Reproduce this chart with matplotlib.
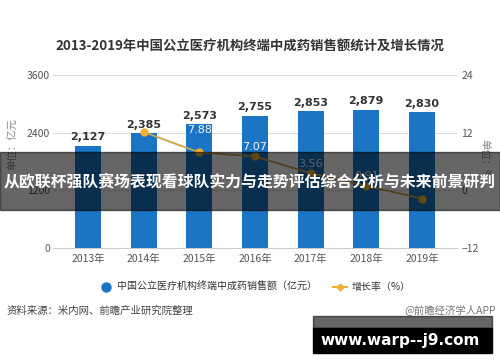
import matplotlib
matplotlib.use("Agg")
import matplotlib.pyplot as plt
from matplotlib.patches import Rectangle
from matplotlib.lines import Line2D

plt.rcParams['font.family'] = ['Noto Sans CJK SC', 'DejaVu Sans']

years = ['2013年', '2014年', '2015年', '2016年', '2017年', '2018年', '2019年']
sales = [2127, 2385, 2573, 2755, 2853, 2879, 2830]
growth = [None, 12.13, 7.88, 7.07, 3.56, 0.91, -1.70]
growth_labels = ['', '', '7.88', '7.07', '3.56', '0.91', '']

left_ticks = [0, 1200, 2400, 3600]
right_ticks = [-12, 0, 12, 24]

title = '2013-2019年中国公立医疗机构终端中成药销售额统计及增长情况'
banner = '从欧联杯强队赛场表现看球队实力与走势评估综合分析与未来前景研判'
site = 'www.warp--j9.com'

BAR = '#1b75c4'
LINE = '#c9a24a'
MARK = '#f0b030'
TXT = '#555555'

W, H = 500, 362
fig = plt.figure(figsize=(5, 3.62), dpi=100)


def px(x, y, w, h):
    # pixel box (top-left origin) -> figure fraction
    return [x / W, 1 - (y + h) / H, w / W, h / H]


ax = fig.add_axes(px(53, 75, 404, 173))
x = list(range(len(years)))
ax.bar(x, sales, width=0.47, color=BAR, zorder=2)
for i, v in enumerate(sales):
    ax.text(i, v + 70, f'{v:,}', ha='center', va='bottom', fontsize=8,
            fontweight='bold', color='#333333', family='DejaVu Sans')
ax.set_ylim(0, 3600)
ax.set_xlim(-0.63, 6.63)
ax.set_yticks(left_ticks)
ax.set_xticks(x)
ax.set_xticklabels(years, fontsize=7.5, color=TXT)
ax.tick_params(axis='y', labelsize=7.5, labelcolor=TXT, length=0, pad=2)
ax.tick_params(axis='x', length=0, pad=4)
ax.grid(axis='y', color='#dddddd', linewidth=0.8, zorder=0)
for s in ['top', 'right', 'left']:
    ax.spines[s].set_visible(False)
ax.spines['bottom'].set_color('#cccccc')
ax.set_ylabel('单位：亿元', fontsize=7.5, color='#888888')
ax.yaxis.set_label_coords(-0.085, 0.6)

ax2 = ax.twinx()
gx = [i for i in x if growth[i] is not None]
gy = [growth[i] for i in gx]
ax2.plot(gx, gy, color=LINE, linewidth=1.3, marker='o', markersize=5,
         markerfacecolor=MARK, markeredgecolor=MARK, zorder=3)
offsets = [0, 0, 16.5, 7, 7, 7, 7]
for i in gx:
    if growth_labels[i]:
        ax2.annotate(growth_labels[i], (i, growth[i]), xytext=(0, offsets[i]),
                     textcoords='offset points', ha='center', va='center',
                     fontsize=8, color='#f4f4f4', family='DejaVu Sans')
ax2.set_ylim(-12, 24)
ax2.set_yticks(right_ticks)
ax2.tick_params(axis='y', labelsize=7.5, labelcolor=TXT, length=0, pad=3)
for s in ax2.spines.values():
    s.set_visible(False)
ax2.set_ylabel('单位：%', fontsize=7.5, color='#888888', rotation=270)
ax2.yaxis.set_label_coords(1.08, 0.51)

fig.text(0.5, 1 - 47 / H, title, ha='center', va='center', fontsize=9.6,
         fontweight='bold', color='#333333')

# legend
ly = 1 - 287 / H
fig.lines.append(Line2D([106 / W], [ly], marker='o', markersize=6.5,
                        color=BAR, linestyle='none',
                        transform=fig.transFigure, figure=fig))
fig.text(117 / W, ly, '中国公立医疗机构终端中成药销售额（亿元）',
         ha='left', va='center', fontsize=7.2, color='#333333')
fig.lines.append(Line2D([333 / W, 340 / W, 347 / W], [ly] * 3, color=MARK,
                        linewidth=1.5, marker='D', markersize=3.5,
                        markevery=[1], transform=fig.transFigure, figure=fig))
fig.text(352 / W, ly, '增长率（%）', ha='left', va='center',
         fontsize=7.2, color='#333333')

fig.text(7 / W, 1 - 311 / H, '资料来源：米内网、前瞻产业研究院整理',
         ha='left', va='center', fontsize=7.5, color='#444444')
fig.text(496 / W, 1 - 310 / H, '@前瞻经济学人APP', ha='right', va='center',
         fontsize=7.5, color='#777777')

# overlay banners
fig.patches.append(Rectangle((0, 1 - 210 / H), 1, 58 / H, color='black',
                             alpha=0.6, transform=fig.transFigure, figure=fig,
                             zorder=10))
fig.text(0.5, 1 - 181 / H, banner, ha='center', va='center', fontsize=11.4,
         fontweight='bold', color='white', zorder=11)
fig.patches.append(Rectangle((313 / W, 1 - 328 / H), 179 / W, 12 / H,
                             color='black', alpha=0.6,
                             transform=fig.transFigure, figure=fig, zorder=10))
fig.patches.append(Rectangle((313 / W, 1 - 353 / H), 179 / W, 25 / H,
                             color='black', transform=fig.transFigure,
                             figure=fig, zorder=10))
fig.text(400 / W, 1 - 340 / H, site, ha='center', va='center', fontsize=11,
         fontweight='bold', color='white', family='DejaVu Sans', zorder=11)

fig.savefig('out.png', dpi=100, facecolor='white')
